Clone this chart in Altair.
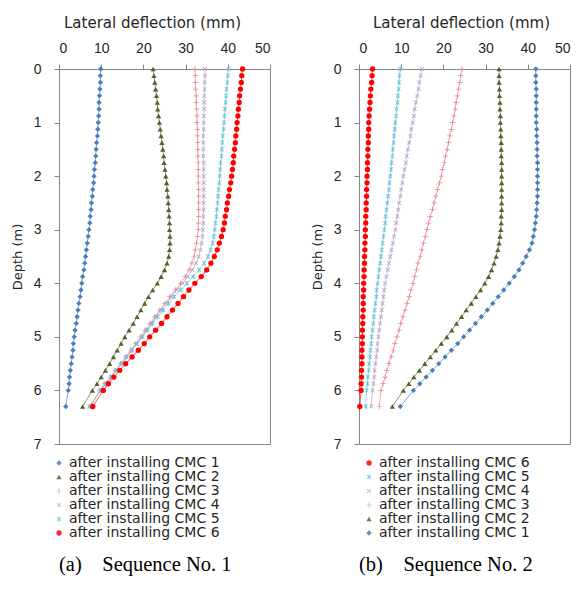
import altair as alt
import pandas as pd

# Depth of each reading (m)
depth = [0.0, 0.125, 0.25, 0.375, 0.5, 0.625, 0.75, 0.875,
         1.0, 1.125, 1.25, 1.375, 1.5, 1.625, 1.75, 1.875,
         2.0, 2.125, 2.25, 2.375, 2.5, 2.625, 2.75, 2.875,
         3.0, 3.125, 3.25, 3.375, 3.5, 3.625, 3.75, 3.875,
         4.0, 4.125, 4.25, 4.375, 4.5, 4.625, 4.75, 4.875,
         5.0, 5.125, 5.25, 5.375, 5.5, 5.625, 5.75, 5.875,
         6.0, 6.3]

names = ["after installing CMC 1", "after installing CMC 2", "after installing CMC 3",
         "after installing CMC 4", "after installing CMC 5", "after installing CMC 6"]

# ---------------- Sequence No. 1 (mm) ----------------
s1_cmc1 = [9.9, 9.8, 9.8, 9.7, 9.6, 9.5, 9.5, 9.4,
           9.3, 9.2, 9.1, 8.9, 8.8, 8.7, 8.6, 8.4,
           8.3, 8.2, 8.0, 7.9, 7.7, 7.6, 7.4, 7.3,
           7.1, 6.9, 6.7, 6.5, 6.3, 6.1, 5.9, 5.6,
           5.4, 5.2, 5.0, 4.7, 4.5, 4.3, 4.1, 3.8,
           3.6, 3.4, 3.3, 3.1, 2.9, 2.7, 2.5, 2.4,
           2.2, 1.6]
s1_cmc2 = [22.3, 22.5, 22.7, 22.9, 23.1, 23.3, 23.4, 23.6,
           23.8, 24.0, 24.2, 24.4, 24.6, 24.8, 24.9, 25.1,
           25.3, 25.5, 25.6, 25.8, 25.9, 26.0, 26.1, 26.2,
           26.2, 26.3, 26.3, 26.2, 26.0, 25.6, 25.0, 24.2,
           23.3, 22.2, 21.2, 20.3, 19.4, 18.5, 17.6, 16.6,
           15.6, 14.7, 13.8, 12.9, 12.0, 11.0, 10.0, 9.0,
           7.9, 5.6]
s1_cmc3 = [32.2, 32.3, 32.3, 32.4, 32.5, 32.5, 32.6, 32.7,
           32.7, 32.8, 32.8, 32.9, 32.9, 32.9, 33.0, 33.0,
           33.0, 33.0, 33.1, 33.1, 33.1, 33.1, 33.1, 33.0,
           33.0, 32.8, 32.6, 32.3, 32.0, 31.5, 30.8, 29.9,
           28.8, 27.6, 26.3, 25.1, 23.9, 22.7, 21.6, 20.4,
           19.3, 18.1, 17.0, 15.8, 14.6, 13.4, 12.2, 10.9,
           9.7, 7.5]
s1_cmc4 = [34.6, 34.6, 34.5, 34.5, 34.4, 34.4, 34.4, 34.3,
           34.3, 34.3, 34.2, 34.2, 34.2, 34.2, 34.3, 34.3,
           34.3, 34.3, 34.3, 34.3, 34.3, 34.3, 34.2, 34.2,
           34.1, 34.0, 33.8, 33.5, 33.1, 32.5, 31.6, 30.5,
           29.3, 27.9, 26.6, 25.4, 24.2, 23.0, 21.9, 20.7,
           19.6, 18.4, 17.2, 16.0, 14.8, 13.5, 12.3, 11.0,
           9.8, 7.2]
s1_cmc5 = [40.2, 40.0, 39.9, 39.7, 39.6, 39.5, 39.3, 39.2,
           39.1, 39.0, 38.8, 38.7, 38.6, 38.5, 38.3, 38.2,
           38.1, 38.0, 37.8, 37.7, 37.6, 37.4, 37.3, 37.1,
           36.9, 36.7, 36.4, 35.9, 35.3, 34.4, 33.2, 31.8,
           30.3, 28.8, 27.3, 26.0, 24.7, 23.4, 22.2, 21.0,
           19.8, 18.5, 17.3, 16.0, 14.8, 13.5, 12.3, 11.0,
           9.8, 7.3]
s1_cmc6 = [43.5, 43.3, 43.2, 43.0, 42.8, 42.7, 42.5, 42.4,
           42.2, 42.1, 41.9, 41.8, 41.6, 41.4, 41.3, 41.1,
           40.9, 40.7, 40.4, 40.2, 39.9, 39.7, 39.4, 39.2,
           38.9, 38.5, 38.0, 37.5, 36.8, 36.0, 35.0, 33.7,
           32.2, 30.8, 29.5, 28.2, 26.9, 25.6, 24.3, 22.9,
           21.5, 20.2, 18.8, 17.3, 15.8, 14.4, 13.0, 11.7,
           10.5, 8.0]

# ---------------- Sequence No. 2 (mm) ----------------
s2_cmc6 = [3.2, 3.1, 3.0, 2.8, 2.7, 2.6, 2.5, 2.4,
           2.3, 2.3, 2.2, 2.2, 2.1, 2.1, 2.0, 2.0,
           1.9, 1.9, 1.8, 1.8, 1.7, 1.7, 1.6, 1.6,
           1.5, 1.5, 1.4, 1.4, 1.3, 1.3, 1.2, 1.2,
           1.1, 1.1, 1.0, 1.0, 1.0, 0.9, 0.9, 0.8,
           0.8, 0.8, 0.7, 0.7, 0.7, 0.6, 0.6, 0.5,
           0.5, 0.2]
s2_cmc5 = [9.8, 9.6, 9.5, 9.4, 9.2, 9.1, 8.9, 8.8,
           8.6, 8.5, 8.3, 8.2, 8.0, 7.9, 7.7, 7.6,
           7.4, 7.2, 7.1, 6.9, 6.7, 6.5, 6.3, 6.2,
           6.0, 5.8, 5.6, 5.4, 5.2, 5.0, 4.8, 4.6,
           4.4, 4.2, 4.1, 3.9, 3.7, 3.5, 3.4, 3.2,
           3.0, 2.9, 2.7, 2.6, 2.4, 2.3, 2.1, 2.0,
           1.8, 1.6]
s2_cmc4 = [14.9, 14.6, 14.3, 14.1, 13.8, 13.5, 13.2, 13.0,
           12.7, 12.4, 12.2, 11.9, 11.6, 11.3, 11.1, 10.8,
           10.5, 10.3, 10.0, 9.8, 9.5, 9.3, 9.1, 8.8,
           8.6, 8.3, 8.0, 7.7, 7.4, 7.1, 6.8, 6.5,
           6.2, 6.0, 5.8, 5.6, 5.4, 5.2, 5.0, 4.8,
           4.6, 4.4, 4.3, 4.1, 3.9, 3.7, 3.6, 3.4,
           3.2, 2.9]
s2_cmc3 = [24.4, 24.1, 23.9, 23.6, 23.3, 23.0, 22.8, 22.5,
           22.2, 21.9, 21.5, 21.2, 20.9, 20.5, 20.2, 19.8,
           19.5, 19.1, 18.6, 18.2, 17.8, 17.4, 16.9, 16.5,
           16.1, 15.7, 15.3, 14.9, 14.5, 14.0, 13.6, 13.2,
           12.8, 12.3, 11.9, 11.4, 10.9, 10.4, 9.9, 9.5,
           9.0, 8.5, 8.1, 7.6, 7.1, 6.6, 6.2, 5.7,
           5.2, 4.8]
s2_cmc2 = [33.2, 33.2, 33.2, 33.3, 33.3, 33.4, 33.4, 33.5,
           33.5, 33.6, 33.6, 33.7, 33.7, 33.7, 33.8, 33.8,
           33.8, 33.8, 33.8, 33.8, 33.8, 33.8, 33.7, 33.7,
           33.6, 33.4, 33.2, 32.9, 32.5, 32.0, 31.4, 30.7,
           29.8, 28.8, 27.7, 26.6, 25.4, 24.3, 23.1, 22.0,
           20.8, 19.5, 18.2, 16.9, 15.6, 14.3, 13.0, 11.8,
           10.5, 7.9]
s2_cmc1 = [41.9, 41.9, 41.9, 42.0, 42.0, 42.0, 42.0, 42.0,
           42.0, 42.1, 42.1, 42.2, 42.2, 42.2, 42.3, 42.3,
           42.3, 42.3, 42.3, 42.3, 42.2, 42.1, 42.0, 41.8,
           41.6, 41.3, 41.0, 40.4, 39.6, 38.8, 37.9, 36.8,
           35.6, 34.3, 33.0, 31.7, 30.4, 29.0, 27.6, 26.2,
           24.8, 23.4, 21.9, 20.4, 18.9, 17.4, 15.9, 14.4,
           12.9, 9.8]

x_ticks = [0, 10, 20, 30, 40, 50]
y_ticks = [0, 1, 2, 3, 4, 5, 6, 7]

colors = {
    names[0]: "#4A7EBB",
    names[1]: "#4F6228",
    names[2]: "#E8848D",
    names[3]: "#B3A2C7",
    names[4]: "#6EC3D8",
    names[5]: "#FF0000",
}
PLUS = "M-1,-0.14H-0.14V-1H0.14V-0.14H1V0.14H0.14V1H-0.14V0.14H-1Z"
XMARK = ("M-0.601,-0.813L0,-0.212L0.601,-0.813L0.813,-0.601L0.212,0L0.813,0.601"
         "L0.601,0.813L0,0.212L-0.601,0.813L-0.813,0.601L-0.212,0L-0.813,-0.601Z")
STAR = XMARK + "M-0.14,-1H0.14V1H-0.14Z"
shapes = {
    names[0]: "diamond",
    names[1]: "triangle-up",
    names[2]: PLUS,
    names[3]: XMARK,
    names[4]: STAR,
    names[5]: "circle",
}

FONT = "Liberation Sans"
WIDE = "DejaVu Sans"
GRAY = "#868686"
TXT = "#262626"


def panel(series, legend_order, caption, sym_offset, title_x):
    rows = []
    for name, vals in series:
        for d, v in zip(depth, vals):
            rows.append({"series": name, "depth": d, "defl": v})
    df = pd.DataFrame(rows)

    x = alt.X("defl:Q",
              scale=alt.Scale(domain=[0, 50], nice=False, zero=False),
              axis=alt.Axis(orient="top", values=x_ticks, title="Lateral deflection (mm)",
                            grid=False, labelPadding=9, titlePadding=11,
                            titleFont=WIDE, titleFontSize=15, titleX=title_x,
                            titleAlign="center"))
    y = alt.Y("depth:Q",
              scale=alt.Scale(domain=[0, 7], reverse=True, nice=False, zero=False),
              axis=alt.Axis(values=y_ticks, title="Depth (m)", grid=False,
                            labelPadding=13, titlePadding=9,
                            titleFont=WIDE, titleFontSize=13))

    rng = [colors[n] for n in legend_order]
    shp = [shapes[n] for n in legend_order]
    leg = alt.Legend(orient="bottom", direction="vertical", title=None,
                     offset=12, padding=0, symbolOffset=sym_offset,
                     labelFont=WIDE, labelFontSize=14, labelColor=TXT,
                     symbolSize=28, symbolStrokeWidth=0, rowPadding=-0.4,
                     labelOffset=3)
    base = alt.Chart(df)
    lines = base.mark_line(strokeWidth=0.8, opacity=0.85).encode(
        x=x, y=y,
        color=alt.Color("series:N", scale=alt.Scale(domain=legend_order, range=rng), legend=leg),
        order=alt.Order("depth:Q"),
    )
    points = base.mark_point(filled=True, size=28, opacity=1, strokeWidth=0).encode(
        x=x, y=y,
        color=alt.Color("series:N", scale=alt.Scale(domain=legend_order, range=rng), legend=leg),
        shape=alt.Shape("series:N", scale=alt.Scale(domain=legend_order, range=shp), legend=leg),
    )
    return alt.layer(lines, points).properties(
        width=211, height=375,
        title=alt.TitleParams(caption, orient="bottom", anchor="start", frame="group",
                              font="Liberation Serif", fontSize=20.5, fontWeight="normal",
                              color="black", offset=15),
    )


left = panel([(names[0], s1_cmc1), (names[1], s1_cmc2), (names[2], s1_cmc3),
              (names[3], s1_cmc4), (names[4], s1_cmc5), (names[5], s1_cmc6)],
             names, "(a)\u00a0\u00a0\u00a0\u00a0Sequence No. 1", -7, 93)
right = panel([(names[5], s2_cmc6), (names[4], s2_cmc5), (names[3], s2_cmc4),
               (names[2], s2_cmc3), (names[1], s2_cmc2), (names[0], s2_cmc1)],
              names[::-1], "(b)\u00a0\u00a0\u00a0\u00a0Sequence No. 2", 3, 102)

chart = alt.hconcat(left, right, spacing=39).resolve_scale(
    color="independent", shape="independent",
    x="independent", y="independent",
).resolve_legend(color="independent", shape="independent"
).properties(
    padding={"left": 2, "top": 6, "right": 0, "bottom": 0},
    background="white",
).configure_view(stroke=GRAY, strokeWidth=1).configure_axis(
    domainColor=GRAY, tickColor=GRAY, tickSize=5,
    labelFont=FONT, labelFontSize=14, labelColor=TXT,
    titleColor=TXT, titleFontWeight="normal",
)

chart.save("out.html", embed_options={"renderer": "svg", "actions": False})
